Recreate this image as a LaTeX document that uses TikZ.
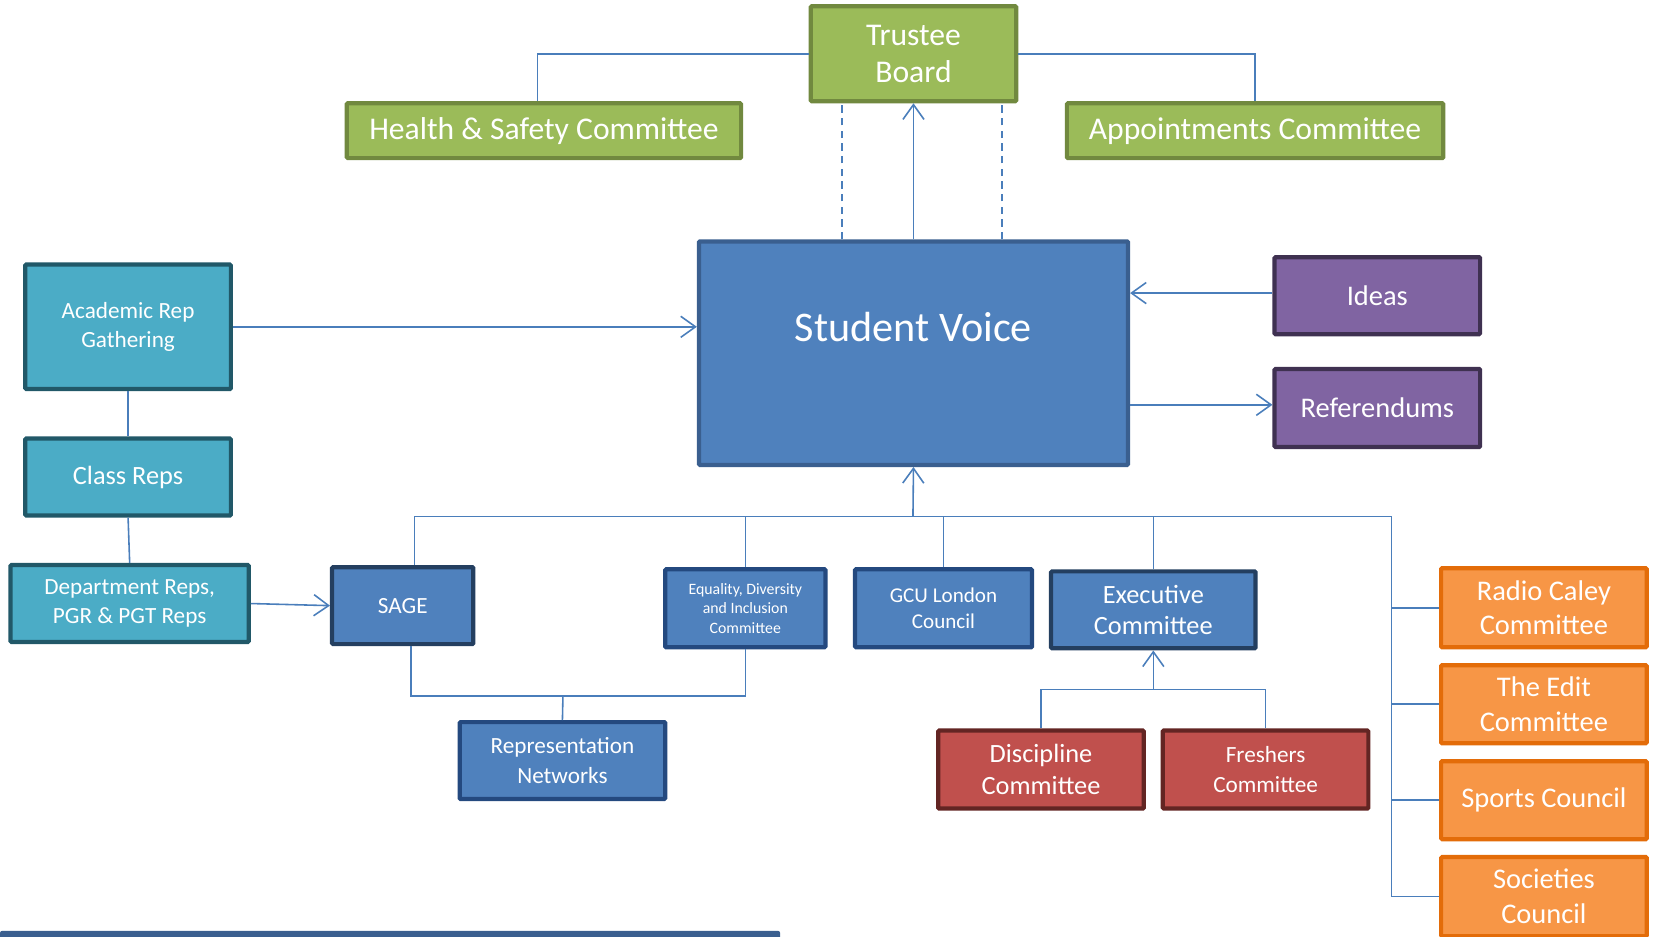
\documentclass[tikz,border=0pt]{standalone}
\usepackage{fontspec}
\setmainfont{Carlito}
\usetikzlibrary{positioning,arrows.meta}

\definecolor{grfill}{HTML}{9BBB59}
\definecolor{grline}{HTML}{71893F}
\definecolor{blfill}{HTML}{4F81BD}
\definecolor{blline}{HTML}{3A5F8F}
\definecolor{bldark}{HTML}{243F60}
\definecolor{blmid}{HTML}{24497F}
\definecolor{pufill}{HTML}{8064A2}
\definecolor{puline}{HTML}{3F3151}
\definecolor{tefill}{HTML}{4BACC6}
\definecolor{teline}{HTML}{215868}
\definecolor{refill}{HTML}{C0504D}
\definecolor{reline}{HTML}{632523}
\definecolor{orfill}{HTML}{F79646}
\definecolor{orline}{HTML}{E36C09}
\definecolor{conn}{HTML}{4A7EBB}
\definecolor{barblue}{HTML}{3A5F8F}

\newcommand{\fs}[2]{\fontsize{#1}{#2}\selectfont}

\tikzset{
  box/.style={rectangle, rounded corners=1pt, line width=4pt, text=white,
    align=center, inner sep=0pt},
  greenbox/.style={box, fill=grfill, draw=grline},
  bluebox/.style={box, fill=blfill, draw=blmid},
  purplebox/.style={box, fill=pufill, draw=puline},
  tealbox/.style={box, fill=tefill, draw=teline},
  redbox/.style={box, fill=refill, draw=reline},
  orangebox/.style={box, fill=orfill, draw=orline},
  link/.style={draw=conn, line width=1.5pt},
  >={Straight Barb[length=14pt,width=20pt,line width=1.5pt]}
}

\begin{document}
\begin{tikzpicture}[x=1pt, y=-1pt]
\useasboundingbox (0,0) rectangle (1568,888);

% top row
\node[greenbox, minimum width=195pt, minimum height=90pt, font=\fs{30}{35}] (tb) at (866.5,51)
  {Trustee\\Board};
\node[greenbox, minimum width=374pt, minimum height=52pt, font=\fs{30}{36}] (hs) at (516,124)
  {Health \& Safety Committee};
\node[greenbox, minimum width=357pt, minimum height=52pt, font=\fs{30}{36}] (ap) at (1190.5,124)
  {Appointments Committee};

% middle
\node[box, fill=blfill, draw=blline, minimum width=407pt, minimum height=212pt, font=\fs{40}{48}] (sv) at (866.5,335)
  {\raisebox{11pt}[0pt][0pt]{Student Voice}};
\node[purplebox, minimum width=195pt, minimum height=73pt, font=\fs{27}{32}] (ideas) at (1306.5,280.5)
  {Ideas};
\node[purplebox, minimum width=195pt, minimum height=74pt, font=\fs{27}{32}] (ref) at (1306.5,387)
  {Referendums};

% left column
\node[tealbox, minimum width=195pt, minimum height=118pt, font=\fs{22}{27}] (arg) at (121.5,310)
  {Academic Rep\\Gathering};
\node[tealbox, minimum width=195pt, minimum height=73pt, font=\fs{25}{30}] (cr) at (121.5,452.5)
  {Class Reps};
\node[tealbox, minimum width=226pt, minimum height=73pt, font=\fs{22}{28}] (dr) at (123,572.5)
  {Department Reps,\\PGR \& PGT Reps};

% blue row
\node[bluebox, draw=bldark, minimum width=134pt, minimum height=73pt, font=\fs{22}{27}] (sage) at (382,574.5)
  {SAGE};
\node[bluebox, minimum width=152pt, minimum height=74pt, font=\fs{15}{18.5}] (edi) at (707,577)
  {Equality, Diversity\\and Inclusion\\Committee};
\node[bluebox, minimum width=195pt, minimum height=73pt, font=\fs{22}{28}] (rn) at (533.5,721.5)
  {Representation\\Networks};
\node[bluebox, minimum width=168pt, minimum height=74pt, font=\fs{20}{25}] (gcu) at (895,577)
  {GCU London\\Council};
\node[bluebox, draw=bldark, minimum width=194pt, minimum height=73pt, font=\fs{25}{30}] (exec) at (1094,578.5)
  {Executive\\Committee};

% red row
\node[redbox, minimum width=195pt, minimum height=74pt, font=\fs{25}{30}] (disc) at (987.5,730)
  {Discipline\\Committee};
\node[redbox, minimum width=195pt, minimum height=74pt, font=\fs{22}{28}] (fresh) at (1200.5,730)
  {Freshers\\Committee};

% orange column
\node[orangebox, minimum width=195pt, minimum height=75pt, font=\fs{27}{33}] (radio) at (1464.5,576.5)
  {Radio Caley\\Committee};
\node[orangebox, minimum width=195pt, minimum height=74pt, font=\fs{27}{33}] (edit) at (1464.5,668)
  {The Edit\\Committee};
\node[orangebox, minimum width=195pt, minimum height=74pt, font=\fs{27}{33}] (sports) at (1464.5,759)
  {Sports Council};
\node[orangebox, minimum width=195pt, minimum height=75pt, font=\fs{27}{33}] (soc) at (1464.5,850.5)
  {Societies\\Council};

% junctions
\coordinate (bus) at (866,490);
\coordinate (busr) at (1320,490);
\coordinate (rnj) at (534,660);
\coordinate (exj) at (1094,654);

% trustee links
\draw[link] (tb.west) -| ([xshift=-6]hs.north);
\draw[link] (tb.east) -| (ap.north);
\draw[link, ->] (sv.north) -- (tb.south);
\draw[link, dashed, dash pattern=on 7pt off 5pt] ([xshift=-68]sv.north) -- ([xshift=-68]tb.south);
\draw[link, dashed, dash pattern=on 7pt off 5pt] ([xshift=84]sv.north) -- ([xshift=84]tb.south);

% ideas and referendums
\draw[link, ->] ([yshift=2.5]ideas.west) -- ([yshift=2.5]ideas.west -| sv.east);
\draw[link, ->] ([yshift=3]ref.west -| sv.east) -- ([yshift=3]ref.west);

% left column
\draw[link, ->] (arg.east) -- (arg.east -| sv.west);
\draw[link] (arg.south) -- (cr.north);
\draw[link] (cr.south) -- (dr.north);
\draw[link, ->] (dr.east) -- (sage.west);

% bus under student voice
\draw[link, ->] (bus) -- (sv.south);
\draw[link] ([xshift=11]sage.north) |- (bus) -- (busr) -- (busr |- soc.west);
\draw[link] (edi.north) -- (edi.north |- bus);
\draw[link] (gcu.north) -- (gcu.north |- bus);
\draw[link] (exec.north) -- (exec.north |- bus);
\foreach \n in {radio,edit,sports,soc}
  \draw[link] (busr |- \n.west) -- (\n.west);

% representation networks
\draw[link] ([xshift=8]sage.south) |- (rnj) -| (edi.south);
\draw[link] (rn.north) -- (rnj);

% executive committee
\draw[link, ->] (exj) -- (exec.south);
\draw[link] (disc.north) |- (exj) -| (fresh.north);

% bottom bar
\fill[barblue, rounded corners=2pt] (0,883) rectangle (740,896);
\end{tikzpicture}
\end{document}
